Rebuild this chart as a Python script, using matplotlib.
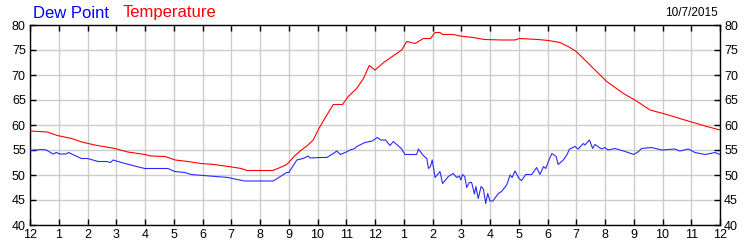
import matplotlib
matplotlib.use("Agg")
import matplotlib.pyplot as plt

# hours since midnight, values in deg F
temp_hours = [0, 0.6, 0.95, 1.45, 1.8, 2.25, 2.95, 3.4, 4.0, 4.2, 4.7, 5.05, 5.5, 5.95,
              6.4, 6.9, 7.35, 7.55, 8.45, 8.7, 8.9, 9.0, 9.2, 9.4, 9.65, 9.85, 10.05,
              10.2, 10.4, 10.55, 10.87, 11.07, 11.36, 11.6, 11.8, 12.0, 12.3, 12.7,
              12.93, 13.1, 13.4, 13.68, 13.93, 14.09, 14.26, 14.35, 14.73, 14.96,
              15.42, 15.8, 16.4, 16.87, 17.02, 17.68, 18.03, 18.43, 18.72, 19.0,
              19.25, 19.6, 20.06, 20.64, 21.04, 21.57, 22.15, 22.6, 23.07, 23.54, 24]
temp = [58.8, 58.6, 57.9, 57.3, 56.6, 56.0, 55.3, 54.6, 54.1, 53.8, 53.7, 53.0, 52.7,
        52.3, 52.1, 51.7, 51.3, 50.9, 50.9, 51.5, 52.0, 52.5, 53.8, 54.8, 55.9, 57.0,
        59.3, 60.8, 62.7, 64.1, 64.1, 65.7, 67.3, 69.3, 71.9, 71.0, 72.5, 74.1, 75.0,
        76.7, 76.3, 77.3, 77.3, 78.5, 78.5, 78.1, 78.1, 77.8, 77.5, 77.1, 77.0, 77.0,
        77.3, 77.1, 76.9, 76.5, 75.7, 74.7, 73.3, 71.3, 68.7, 66.3, 65.0, 63.0, 62.1,
        61.3, 60.5, 59.7, 59.0]

dew_hours = [0, 0.4, 0.57, 0.8, 0.92, 1.03, 1.26, 1.34, 1.79, 2.0, 2.37, 2.66, 2.8,
             2.89, 3.18, 3.64, 3.99, 4.8, 5.03, 5.38, 5.61, 6.89, 7.12, 7.47, 8.46,
             8.93, 9.0, 9.28, 9.5, 9.68, 9.74, 10.09, 10.32, 10.55, 10.67, 10.8, 11.0,
             11.13, 11.3, 11.36, 11.65, 11.9, 12.08, 12.2, 12.37, 12.52, 12.64, 12.93,
             13.04, 13.45, 13.51, 13.68, 13.8, 13.86, 13.93, 13.99, 14.09, 14.26,
             14.35, 14.55, 14.72, 14.84, 14.93, 14.99, 15.04, 15.12, 15.19, 15.28,
             15.36, 15.46, 15.51, 15.59, 15.69, 15.77, 15.85, 15.92, 16.0, 16.1,
             16.29, 16.4, 16.58, 16.7, 16.77, 16.87, 17.01, 17.1, 17.24, 17.45, 17.62,
             17.74, 17.86, 17.94, 18.03, 18.15, 18.3, 18.37, 18.55, 18.67, 18.77,
             18.96, 19.06, 19.25, 19.3, 19.46, 19.57, 19.65, 19.88, 20.0, 20.1, 20.35,
             20.7, 21.0, 21.17, 21.27, 21.62, 21.97, 22.43, 22.6, 22.9, 23.13, 23.48,
             23.83, 24]
dew = [54.9, 55.1, 55.0, 54.2, 54.5, 54.2, 54.2, 54.5, 53.3, 53.3, 52.7, 52.7, 52.5,
       53.0, 52.5, 51.8, 51.3, 51.3, 50.7, 50.5, 50.1, 49.5, 49.2, 48.8, 48.8, 50.5,
       50.5, 53.0, 53.3, 53.8, 53.4, 53.5, 53.5, 54.3, 54.8, 54.1, 54.6, 55.0, 55.3,
       55.7, 56.5, 56.8, 57.5, 57.0, 57.0, 55.9, 56.7, 55.2, 54.1, 54.1, 55.2, 53.9,
       53.3, 51.3, 51.7, 53.0, 49.5, 50.7, 48.3, 49.7, 50.3, 49.5, 49.8, 49.0, 50.1,
       49.7, 47.5, 48.5, 48.5, 46.2, 47.7, 45.3, 47.7, 47.2, 44.3, 46.3, 44.8, 44.8,
       46.3, 46.7, 48.0, 50.0, 49.5, 50.8, 49.3, 48.9, 50.1, 50.1, 51.5, 50.1, 51.7,
       51.3, 52.7, 54.3, 53.7, 52.1, 53.0, 54.0, 55.2, 55.7, 55.2, 56.3, 56.0, 57.0,
       55.3, 56.1, 55.2, 55.5, 55.0, 55.3, 54.7, 54.1, 54.7, 55.3, 55.5, 55.0, 55.2,
       54.8, 55.2, 54.5, 54.1, 54.5, 54.1]

hour_ticks = list(range(25))
hour_labels = ["12"] + [str(h) for h in range(1, 12)] + ["12"] + [str(h) for h in range(1, 12)] + ["12"]
y_ticks = [40, 45, 50, 55, 60, 65, 70, 75, 80]
date_label = "10/7/2015"

plt.rcParams["font.family"] = ["Liberation Sans", "DejaVu Sans"]

fig = plt.figure(figsize=(7.5, 2.5), dpi=100)
ax = fig.add_axes([0.04, 0.1, 0.92, 0.8])

ax.plot(temp_hours, temp, color="#ff0000", lw=0.8, zorder=3)
ax.plot(dew_hours, dew, color="#2a2aff", lw=0.8, zorder=3)

ax.set_xlim(0, 24)
ax.set_ylim(40, 80)
ax.set_xticks(hour_ticks)
ax.set_xticklabels(hour_labels)
ax.set_yticks(y_ticks)
ax.grid(True, color="#cccccc", lw=1)
ax.set_axisbelow(True)
ax.tick_params(direction="in", length=4, width=1, top=True, right=True,
               labelright=True, labelsize=9, colors="black", pad=3)
for s in ax.spines.values():
    s.set_color("black")
    s.set_linewidth(1)

fig.text(0.044, 0.948, "Dew Point", color="#0000ff", fontsize=12, va="center", ha="left")
fig.text(0.164, 0.948, "Temperature", color="#ff0000", fontsize=12, va="center", ha="left")
fig.text(0.957, 0.948, date_label, color="black", fontsize=8.5, va="center", ha="right")

fig.savefig("out.png", dpi=100)
